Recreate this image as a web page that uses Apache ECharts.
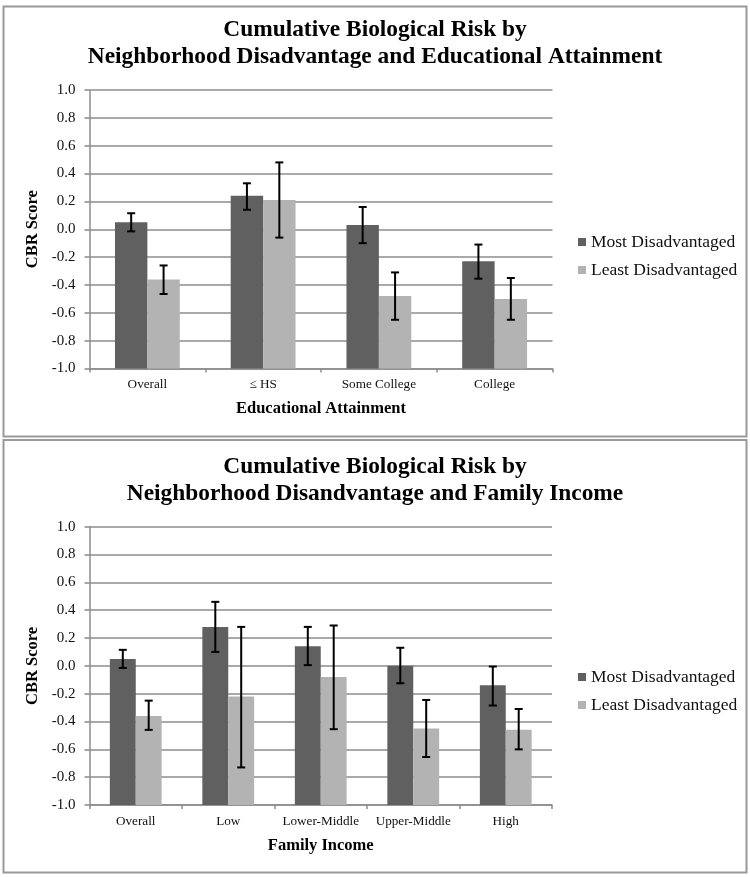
<!DOCTYPE html>
<html>
<head>
<meta charset="utf-8">
<script src="https://cdn.jsdelivr.net/npm/echarts@6/dist/echarts.min.js"></script>
<style>
html,body{margin:0;padding:0;background:#fff;}
#chart{width:750px;height:877px;}
</style>
</head>
<body>
<div id="chart"></div>
<script>
// ---- Data ----
var seriesNames = ['Most Disadvantaged', 'Least Disadvantaged'];

var eduCategories = ['Overall', '\u2264 HS', 'Some College', 'College'];
var eduMost = [0.05, 0.24, 0.03, -0.23];
var eduMostHi = [0.115, 0.33, 0.16, -0.11];
var eduMostLo = [-0.015, 0.14, -0.10, -0.355];
var eduLeast = [-0.36, 0.21, -0.48, -0.50];
var eduLeastHi = [-0.26, 0.48, -0.31, -0.35];
var eduLeastLo = [-0.465, -0.06, -0.65, -0.65];

var incCategories = ['Overall', 'Low', 'Lower-Middle', 'Upper-Middle', 'High'];
var incMost = [0.05, 0.28, 0.14, 0.00, -0.14];
var incMostHi = [0.115, 0.46, 0.28, 0.13, -0.005];
var incMostLo = [-0.015, 0.10, 0.005, -0.125, -0.285];
var incLeast = [-0.36, -0.22, -0.08, -0.45, -0.46];
var incLeastHi = [-0.25, 0.28, 0.29, -0.245, -0.31];
var incLeastLo = [-0.46, -0.73, -0.455, -0.655, -0.60];

var yMin = -1.0, yMax = 1.0, yStep = 0.2;

// ---- Styling ----
var FONT = '"Liberation Serif", "Times New Roman", serif';
var DARK = '#606060';
var LIGHT = '#b3b3b3';
var GRID = '#8c8c8c';
var CAT_GAP = 0.44;

function errData(hi, lo) {
  return hi.map(function (h, i) { return [i, h, lo[i]]; });
}
function errRender(sign) {
  return function (params, api) {
    var i = api.value(0);
    var band = api.size([1, 0])[0];
    var bw = band * (1 - CAT_GAP) / 2;
    var top = api.coord([i, api.value(1)]);
    var bot = api.coord([i, api.value(2)]);
    var x = top[0] + sign * bw / 2;
    var cap = 4;
    var st = { stroke: '#000', lineWidth: 2 };
    return {
      type: 'group',
      children: [
        { type: 'line', shape: { x1: x, y1: top[1], x2: x, y2: bot[1] }, style: st },
        { type: 'line', shape: { x1: x - cap, y1: top[1], x2: x + cap, y2: top[1] }, style: st },
        { type: 'line', shape: { x1: x - cap, y1: bot[1], x2: x + cap, y2: bot[1] }, style: st }
      ]
    };
  };
}

function xAxisDef(idx, cats, name) {
  return {
    type: 'category', gridIndex: idx, data: cats,
    name: name, nameLocation: 'middle', nameGap: 32,
    nameTextStyle: { fontFamily: FONT, fontSize: 16.5, fontWeight: 'bold', color: '#000' },
    axisLine: { show: true, onZero: false, lineStyle: { color: GRID, width: 1.5 } },
    axisTick: { show: true, length: 4, lineStyle: { color: GRID, width: 1.5 } },
    axisLabel: { fontFamily: FONT, fontSize: 13.2, color: '#111', margin: 10, interval: 0 },
    splitLine: { show: false }
  };
}
function yAxisDef(idx) {
  return {
    type: 'value', gridIndex: idx, min: yMin, max: yMax, interval: yStep, startValue: yMin,
    name: 'CBR Score', nameLocation: 'middle', nameGap: 46, nameRotate: 90,
    nameTextStyle: { fontFamily: FONT, fontSize: 16.5, fontWeight: 'bold', color: '#000' },
    axisLine: { show: true, onZero: false, lineStyle: { color: GRID, width: 1.5 } },
    axisTick: { show: true, length: 5, lineStyle: { color: GRID, width: 1.5 } },
    axisLabel: { fontFamily: FONT, fontSize: 15, color: '#111', margin: 14,
      formatter: function (v) { return v.toFixed(1); } },
    splitLine: { show: true, lineStyle: { color: GRID, width: 1.5 } }
  };
}
function legendDef(top) {
  return {
    orient: 'vertical', left: 578, top: top, icon: 'rect',
    itemWidth: 8, itemHeight: 8, itemGap: 10, padding: 0,
    textStyle: { fontFamily: FONT, fontSize: 17.5, color: '#111', lineHeight: 18, padding: [0, 0, 0, 0] },
    data: seriesNames
  };
}
function titleDef(text, top) {
  return {
    text: text, left: 'center', top: top, padding: 0,
    textStyle: { fontFamily: FONT, fontSize: 23.4, fontWeight: 'bold', color: '#000', lineHeight: 27 }
  };
}

var option = {
  animation: false,
  backgroundColor: '#fff',
  title: [
    titleDef('Cumulative Biological Risk by\nNeighborhood Disadvantage and Educational Attainment', 16),
    titleDef('Cumulative Biological Risk by\nNeighborhood Disandvantage and Family Income', 453)
  ],
  legend: [legendDef(233), legendDef(668)],
  grid: [
    { left: 89.5, top: 90, width: 463, height: 278.5, containLabel: false },
    { left: 89.5, top: 526.7, width: 462.5, height: 278.3, containLabel: false }
  ],
  xAxis: [xAxisDef(0, eduCategories, 'Educational Attainment'), xAxisDef(1, incCategories, 'Family Income')],
  yAxis: [yAxisDef(0), yAxisDef(1)],
  graphic: [
    { type: 'rect', shape: { x: 3.5, y: 6.5, width: 743, height: 430 }, style: { fill: 'none', stroke: '#999', lineWidth: 2 }, z: 100 },
    { type: 'rect', shape: { x: 3.5, y: 440, width: 743, height: 432.5 }, style: { fill: 'none', stroke: '#999', lineWidth: 2 }, z: 100 }
  ],
  series: [
    { name: seriesNames[0], type: 'bar', xAxisIndex: 0, yAxisIndex: 0, data: eduMost,
      itemStyle: { color: DARK }, barGap: '0%', barCategoryGap: (CAT_GAP * 100) + '%' },
    { name: seriesNames[1], type: 'bar', xAxisIndex: 0, yAxisIndex: 0, data: eduLeast,
      itemStyle: { color: LIGHT }, barGap: '0%', barCategoryGap: (CAT_GAP * 100) + '%' },
    { name: seriesNames[0], type: 'bar', xAxisIndex: 1, yAxisIndex: 1, data: incMost,
      itemStyle: { color: DARK }, barGap: '0%', barCategoryGap: (CAT_GAP * 100) + '%' },
    { name: seriesNames[1], type: 'bar', xAxisIndex: 1, yAxisIndex: 1, data: incLeast,
      itemStyle: { color: LIGHT }, barGap: '0%', barCategoryGap: (CAT_GAP * 100) + '%' },
    { name: seriesNames[0], type: 'custom', xAxisIndex: 0, yAxisIndex: 0, renderItem: errRender(-1),
      data: errData(eduMostHi, eduMostLo), encode: { x: 0, y: [1, 2] }, z: 10, silent: true },
    { name: seriesNames[1], type: 'custom', xAxisIndex: 0, yAxisIndex: 0, renderItem: errRender(1),
      data: errData(eduLeastHi, eduLeastLo), encode: { x: 0, y: [1, 2] }, z: 10, silent: true },
    { name: seriesNames[0], type: 'custom', xAxisIndex: 1, yAxisIndex: 1, renderItem: errRender(-1),
      data: errData(incMostHi, incMostLo), encode: { x: 0, y: [1, 2] }, z: 10, silent: true },
    { name: seriesNames[1], type: 'custom', xAxisIndex: 1, yAxisIndex: 1, renderItem: errRender(1),
      data: errData(incLeastHi, incLeastLo), encode: { x: 0, y: [1, 2] }, z: 10, silent: true }
  ]
};

var chart = echarts.init(document.getElementById('chart'), null, { renderer: 'canvas' });
chart.setOption(option);
</script>
</body>
</html>
